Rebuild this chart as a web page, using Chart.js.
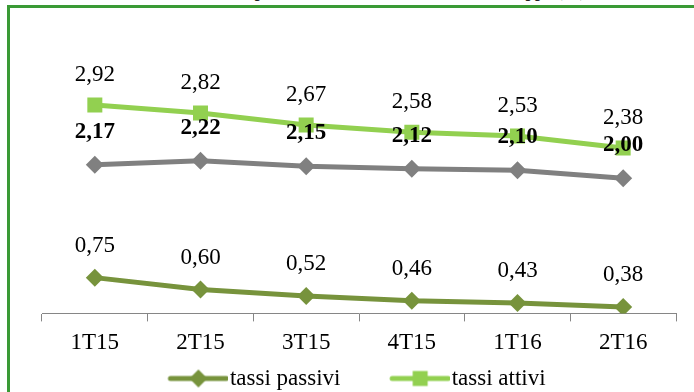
<!DOCTYPE html>
<html>
<head>
<meta charset="utf-8">
<script src="https://cdn.jsdelivr.net/npm/chart.js@4.4.1/dist/chart.umd.min.js"></script>
<style>
  html, body { margin: 0; padding: 0; background: #fff; overflow: hidden; }
  #wrap { position: relative; width: 694px; height: 392px; overflow: hidden; }
  #titolo {
    position: absolute; left: 57px; top: -17px; white-space: nowrap;
    font: bold 17px "Liberation Serif", "Times New Roman", serif; line-height: 17px; color: #222;
  }
  #cornice {
    position: absolute; left: 7px; top: 5px; width: 900px; height: 600px;
    border: 3px solid #3a9a35;
  }
  #grafico { position: absolute; left: 0; top: 0; }
</style>
</head>
<body>
<div id="wrap">
  <div id="titolo">Andamento dei tassi attivi, passivi e della forbice dei tassi di Gruppo (%)</div>
  <div id="cornice"></div>
  <canvas id="grafico" width="694" height="392"></canvas>
</div>
<script>
/* ============================================================
   DATI
   ============================================================ */
const trimestri     = ['1T15', '2T15', '3T15', '4T15', '1T16', '2T16'];
const tassiAttivi   = [2.92, 2.82, 2.67, 2.58, 2.53, 2.38];
const tassiPassivi  = [0.75, 0.60, 0.52, 0.46, 0.43, 0.38];
const forbice       = [2.17, 2.22, 2.15, 2.12, 2.10, 2.00];

const FONT = '"Liberation Serif", "Times New Roman", serif';
const COL_ATTIVI  = '#92d050';
const COL_PASSIVI = '#77933c';
const COL_FORBICE = '#808080';

const fmt = v => v.toFixed(2).replace('.', ',');

/* icona legenda: linea + marcatore */
function iconaLegenda(colore, forma) {
  const c = document.createElement('canvas');
  c.width = 66; c.height = 20;
  const g = c.getContext('2d');
  g.strokeStyle = colore; g.lineWidth = 5; g.lineCap = 'round';
  g.beginPath(); g.moveTo(8, 10); g.lineTo(64, 10); g.stroke();
  g.fillStyle = colore;
  g.beginPath();
  if (forma === 'rombo') {
    g.moveTo(36 - 9, 10); g.lineTo(36, 1); g.lineTo(36 + 9, 10); g.lineTo(36, 19);
  } else {
    g.rect(36 - 7.5, 10 - 7.5, 15, 15);
  }
  g.closePath(); g.fill();
  return c;
}

/* etichette dati */
const etichettePlugin = {
  id: 'etichette',
  afterDatasetsDraw(chart) {
    const ctx = chart.ctx;
    ctx.save();
    ctx.textAlign = 'center';
    ctx.textBaseline = 'middle';
    ctx.fillStyle = '#000';
    chart.data.datasets.forEach((ds, i) => {
      const meta = chart.getDatasetMeta(i);
      ctx.font = (ds.bold ? 'bold ' : '') + '23px ' + FONT;
      meta.data.forEach((pt, j) => {
        ctx.fillText(fmt(ds.data[j]), pt.x, pt.y - ds.offsetLabel);
      });
    });
    ctx.restore();
  }
};

const ctx = document.getElementById('grafico');

new Chart(ctx, {
  type: 'line',
  data: {
    labels: trimestri,
    datasets: [
      {
        label: 'forbice',
        data: forbice,
        borderColor: COL_FORBICE,
        backgroundColor: COL_FORBICE,
        borderWidth: 5,
        pointStyle: 'rectRot',
        pointRadius: 9,
        pointBorderWidth: 0,
        tension: 0,
        bold: true,
        offsetLabel: 33,
      },
      {
        label: 'tassi passivi',
        data: tassiPassivi,
        borderColor: COL_PASSIVI,
        backgroundColor: COL_PASSIVI,
        borderWidth: 5,
        pointStyle: 'rectRot',
        pointRadius: 9,
        pointBorderWidth: 0,
        tension: 0,
        offsetLabel: 32,
        icona: iconaLegenda(COL_PASSIVI, 'rombo'),
      },
      {
        label: 'tassi attivi',
        data: tassiAttivi,
        borderColor: COL_ATTIVI,
        backgroundColor: COL_ATTIVI,
        borderWidth: 5,
        pointStyle: 'rect',
        pointRadius: 10.6,
        pointBorderWidth: 0,
        tension: 0,
        offsetLabel: 30,
        icona: iconaLegenda(COL_ATTIVI, 'quadrato'),
      }
    ]
  },
  options: {
    responsive: false,
    animation: false,
    layout: { padding: { left: 42, right: 18, top: 59, bottom: -8 } },
    plugins: {
      tooltip: { enabled: false },
      legend: {
        position: 'bottom',
        labels: {
          usePointStyle: true,
          pointStyleWidth: 46,
          boxHeight: 20,
          padding: 2,
          color: '#000',
          font: { family: FONT, size: 23 },
          generateLabels(chart) {
            return [1, 2].map(i => {
              const ds = chart.data.datasets[i];
              return {
                text: i === 1 ? ds.label + '         ' : ds.label,
                pointStyle: ds.icona,
                fillStyle: ds.borderColor,
                strokeStyle: ds.borderColor,
                lineWidth: 0,
                hidden: false,
                datasetIndex: i,
              };
            });
          }
        }
      }
    },
    scales: {
      x: {
        offset: true,
        grid: { offset: true, drawOnChartArea: false, tickLength: 8, color: '#868686' },
        border: { color: '#868686', width: 1 },
        ticks: { color: '#000', padding: 8, font: { family: FONT, size: 23 } }
      },
      y: { display: false, min: 0.3, max: 3.5 }
    }
  },
  plugins: [etichettePlugin]
});
</script>
</body>
</html>
